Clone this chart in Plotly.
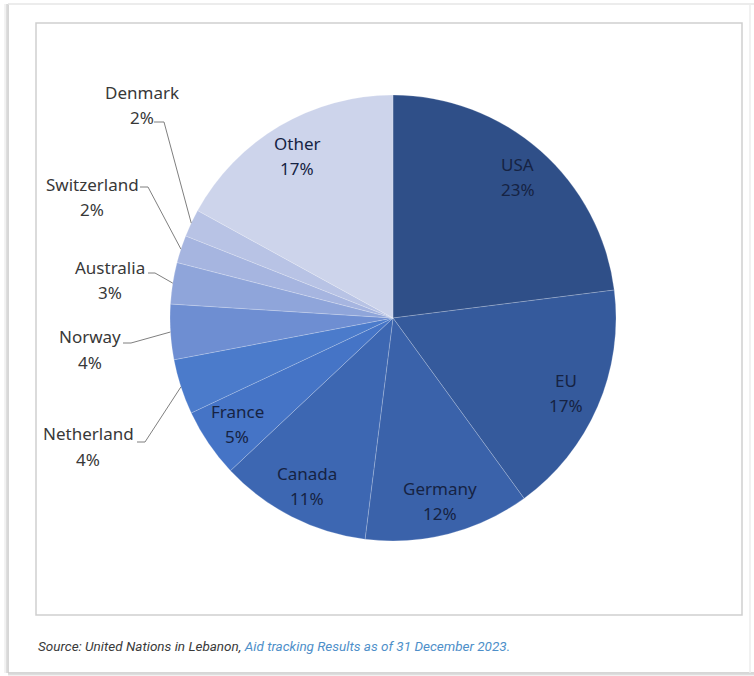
import math
import plotly.graph_objects as go

# Donor shares of aid to Lebanon (percent), clockwise from 12 o'clock
donors = ["USA", "EU", "Germany", "Canada", "France", "Netherland",
          "Norway", "Australia", "Switzerland", "Denmark", "Other"]
shares = [23, 17, 12, 11, 5, 4, 4, 3, 2, 2, 17]
colors = ["#2F4F88", "#355A9C", "#3A62AA", "#3D67B2", "#4574C6", "#4B7BCB",
          "#6E8ED2", "#8FA5DA", "#A6B5E0", "#B8C3E5", "#CDD4EB"]

# slices labelled inside the pie vs. with leader lines outside
inside = {"USA", "EU", "Germany", "Canada", "France", "Other"}

W, H = 754, 676
CX, CY, R = 393, 318, 223          # pie centre and radius (px)

# outside label placement (text centre x, first-line y, leader start, knee)
outside_layout = {
    "Denmark":     dict(x=142, y=92,  start=(154, 122), knee=(164, 122)),
    "Switzerland": dict(x=92,  y=184, start=(140, 187), knee=(148, 187)),
    "Australia":   dict(x=110, y=267, start=(148, 273), knee=(155, 273)),
    "Norway":      dict(x=90,  y=337, start=(123, 343), knee=(131, 343)),
    "Netherland":  dict(x=88,  y=434, start=(137, 442), knee=(145, 442)),
}


def px(x):
    return x / W


def py(y):
    return 1 - y / H


def polar(frac, r):
    """Pixel point at fraction `frac` of the turn (clockwise from top)."""
    a = 2 * math.pi * frac
    return CX + r * math.sin(a), CY - r * math.cos(a)


fig = go.Figure()
fig.add_trace(go.Pie(
    labels=donors,
    values=shares,
    sort=False,
    direction="clockwise",
    rotation=0,
    textinfo="none",
    hoverinfo="label+percent",
    marker=dict(colors=colors, line=dict(color="rgba(255,255,255,0.25)", width=0.8)),
    domain=dict(x=[px(CX - R), px(CX + R)], y=[py(CY + R), py(CY - R)]),
    showlegend=False,
))

annotations = []
shapes = []
total = sum(shares)
cum = 0
inside_font = dict(family="Noto Sans, Open Sans, sans-serif", size=17, color="#162343")
outside_font = dict(family="Noto Sans, Open Sans, sans-serif", size=17, color="#383838")

for name, val in zip(donors, shares):
    mid = (cum + val / 2) / total
    cum += val
    pct = f"{round(100 * val / total)}%"
    if name in inside:
        x, y = polar(mid, 0.845 * R)
        for text, dy in ((name, -12.5), (pct, 12.5)):
            annotations.append(dict(x=px(x), y=py(y + dy), xref="paper", yref="paper",
                                    text=text, showarrow=False, font=inside_font,
                                    xanchor="center", yanchor="middle"))
    else:
        lay = outside_layout[name]
        for text, dy in ((name, 0), (pct, 25)):
            annotations.append(dict(x=px(lay["x"]), y=py(lay["y"] + dy), xref="paper", yref="paper",
                                    text=text, showarrow=False, font=outside_font,
                                    xanchor="center", yanchor="middle"))
        ex, ey = polar(mid, R)
        (sx, sy), (kx, ky) = lay["start"], lay["knee"]
        shapes.append(dict(type="path", xref="paper", yref="paper",
                           path=f"M {px(sx)},{py(sy)} L {px(kx)},{py(ky)} L {px(ex)},{py(ey)}",
                           line=dict(color="#7F7F7F", width=1)))

# card outline with a soft shadow on the left and bottom
for off, col in ((0, "#C9C9C9"), (1.5, "#DEDEDE"), (3, "#EFEFEF")):
    shapes.append(dict(type="line", xref="paper", yref="paper",
                       x0=px(8 - off), x1=px(8 - off), y0=py(4), y1=py(673),
                       line=dict(color=col, width=1.5)))
    shapes.append(dict(type="line", xref="paper", yref="paper",
                       x0=px(8), x1=px(754), y0=py(673 + off), y1=py(673 + off),
                       line=dict(color=col, width=1.5)))
shapes.append(dict(type="line", xref="paper", yref="paper",
                   x0=px(8), x1=px(754), y0=py(4), y1=py(4),
                   line=dict(color="#E6E6E6", width=1.5)))
shapes.append(dict(type="line", xref="paper", yref="paper",
                   x0=px(750), x1=px(750), y0=py(4), y1=py(673),
                   line=dict(color="#EDEDED", width=1.5)))

# inner chart frame
shapes.append(dict(type="rect", xref="paper", yref="paper",
                   x0=px(36), x1=px(742), y0=py(615), y1=py(23),
                   line=dict(color="#CFCFCF", width=1.5)))

# source note
annotations.append(dict(
    x=px(36), y=py(646), xref="paper", yref="paper",
    xanchor="left", yanchor="middle", showarrow=False,
    text="<i>Source: United Nations in Lebanon, "
         "<span style='color:#4E8FC9'>Aid tracking Results as of 31 December 2023.</span></i>",
    font=dict(family="Roboto, Liberation Sans, sans-serif", size=13.5, color="#3A3A3A"),
))

fig.update_layout(
    width=W, height=H,
    margin=dict(l=0, r=0, t=0, b=0),
    paper_bgcolor="white",
    plot_bgcolor="white",
    annotations=annotations,
    shapes=shapes,
)

fig.write_html("out.html")
